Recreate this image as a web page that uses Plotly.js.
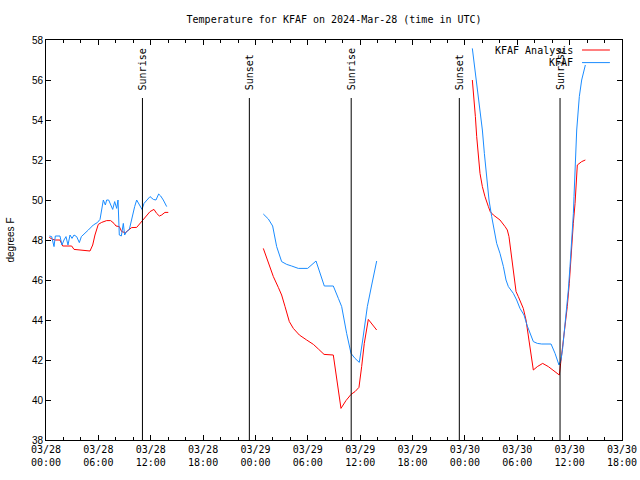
<!DOCTYPE html>
<html>
<head>
<meta charset="utf-8">
<script src="https://cdn.plot.ly/plotly-3.0.1.min.js"></script>
<style>html,body{margin:0;padding:0;background:#fff;}#chart{width:640px;height:480px;}</style>
</head>
<body>
<div id="chart"></div>
<script>
// Hours since 2024-03-28 00:00 UTC
var obsHours = [0.38,0.65,0.92,1.07,1.6,1.83,2.06,2.29,2.52,2.75,2.98,3.21,3.51,3.82,4.05,4.47,4.85,5.42,5.88,6.19,6.38,6.57,6.8,6.95,7.18,7.41,7.64,7.87,8.1,8.25,8.4,8.63,8.86,9.01,9.24,9.55,9.85,10.16,10.39,10.69,11.0,11.23,11.54,11.92,12.3,12.6,12.91,13.14,13.44,13.83,
  null,
  24.9,25.48,25.97,26.43,27.0,27.58,28.15,28.91,29.98,30.94,31.89,32.92,33.5,33.88,34.45,34.95,35.41,35.9,36.29,36.82,37.32,37.89,
  null,
  48.85,49.16,49.46,49.73,50.0,50.23,50.49,50.76,51.07,51.34,51.64,52.02,52.41,52.71,52.98,53.55,53.93,54.31,54.77,55.15,55.46,55.84,56.3,56.8,57.87,58.33,58.78,59.01,59.2,59.47,59.66,59.85,60.04,60.23,60.43,60.5,60.62,60.81,61.11,61.38,61.8];
var obsTemps = [48.2,48.17,47.67,48.2,48.2,47.75,48.0,48.17,47.75,48.25,48.08,48.25,48.17,47.87,48.17,48.33,48.5,48.75,48.87,49.03,49.5,50.0,49.75,50.0,50.0,49.75,49.53,49.92,49.58,50.0,48.25,48.2,48.83,48.25,48.42,48.53,49.17,49.67,50.0,49.8,49.53,49.83,49.97,50.17,50.03,50.0,50.3,50.2,50.0,49.67,
  null,
  49.3,49.05,48.7,47.67,46.92,46.78,46.7,46.58,46.58,46.95,45.7,45.7,45.08,44.67,43.33,42.33,42.08,41.88,43.0,44.67,45.75,46.95,
  null,
  57.58,56.5,55.5,54.5,53.5,52.33,51.17,50.0,49.17,48.58,47.83,47.33,46.67,46.0,45.67,45.33,45.0,44.58,44.25,43.7,43.33,42.92,42.83,42.8,42.8,42.33,41.75,42.0,42.58,43.67,44.67,45.5,46.67,47.83,49.33,50.17,51.83,53.5,55.17,56.0,56.75];

var anaHours = [0.38,0.76,1.07,1.6,1.91,2.94,3.21,3.9,4.28,5.04,5.35,5.61,5.99,6.38,6.95,7.41,7.79,8.02,8.4,8.67,9.09,9.43,9.81,10.39,10.77,11.15,11.54,11.92,12.37,12.68,12.99,13.25,13.63,14.01,
  null,
  24.9,25.48,26.05,26.62,27.0,27.39,27.88,28.34,29.03,29.87,30.64,31.21,31.86,32.92,33.23,33.54,33.8,34.37,34.95,35.41,35.86,36.17,36.47,36.93,37.39,37.89,
  null,
  48.85,49.04,49.2,49.35,49.54,49.73,50.0,50.3,50.69,50.9,51.26,52.02,52.6,52.86,53.05,53.25,53.44,53.63,53.86,54.12,54.39,54.69,55.0,55.27,55.53,55.84,56.3,56.91,57.56,58.13,58.82,58.97,59.2,59.47,59.73,59.96,60.15,60.42,60.62,60.75,60.88,61.38,61.8];
var anaTemps = [48.13,48.03,48.0,48.0,47.7,47.7,47.53,47.5,47.45,47.45,47.75,48.25,48.78,48.88,48.97,48.97,48.83,48.7,48.67,48.42,48.37,48.47,48.62,48.63,48.83,49.03,49.2,49.42,49.53,49.33,49.2,49.25,49.38,49.38,
  null,
  47.58,46.83,46.17,45.63,45.25,44.67,43.92,43.58,43.25,43.0,42.78,42.55,42.28,42.25,41.33,40.5,39.58,39.97,40.28,40.42,40.63,41.67,42.83,44.03,43.75,43.5,
  null,
  56.0,55.17,54.17,53.17,52.17,51.33,50.67,50.17,49.67,49.42,49.25,49.0,48.67,48.5,48.17,47.5,47.0,46.17,45.42,45.17,44.92,44.58,44.0,43.17,42.33,41.5,41.67,41.83,41.67,41.5,41.25,41.83,42.67,43.5,44.67,45.83,47.33,48.83,49.83,51.0,51.75,51.92,52.0];

var sunEventHours = [11.05, 23.3, 34.97, 47.36, 58.9];
var sunEventLabels = ["Sunrise", "Sunset", "Sunrise", "Sunset", "Sunrise"];

var tickHours = [0,6,12,18,24,30,36,42,48,54,60,66];
var tickLabels = ["03/28<br>00:00","03/28<br>06:00","03/28<br>12:00","03/28<br>18:00","03/29<br>00:00","03/29<br>06:00","03/29<br>12:00","03/29<br>18:00","03/30<br>00:00","03/30<br>06:00","03/30<br>12:00","03/30<br>18:00"];

var seriesNames = ["KFAF Analysis", "KFAF"];
var seriesColors = ["#ff0000", "#1a8cff"];

var BASE = Date.UTC(2024, 2, 28, 0, 0, 0);
function toDate(h) {
  if (h === null) return null;
  var d = new Date(BASE + h * 3600000);
  return d.toISOString().replace('T', ' ').replace('Z', '');
}

var mono = "DejaVu Sans Mono, monospace";

var traces = [
  {x: anaHours.map(toDate), y: anaTemps, type: 'scatter', mode: 'lines', name: seriesNames[0],
   line: {color: seriesColors[0], width: 1}, connectgaps: false, showlegend: false},
  {x: obsHours.map(toDate), y: obsTemps, type: 'scatter', mode: 'lines', name: seriesNames[1],
   line: {color: seriesColors[1], width: 1}, connectgaps: false, showlegend: false}
];

var shapes = [];
var annotations = [];
for (var i = 0; i < sunEventHours.length; i++) {
  shapes.push({type: 'line', xref: 'x', yref: 'paper', x0: toDate(sunEventHours[i]), x1: toDate(sunEventHours[i]),
    y0: 0, y1: 0.855, line: {color: '#000', width: 1}});
  annotations.push({xref: 'x', yref: 'paper', x: toDate(sunEventHours[i]), y: 0.87, text: sunEventLabels[i],
    textangle: -90, showarrow: false, xanchor: 'center', yanchor: 'bottom',
    font: {family: mono, size: 10, color: '#000'}});
}
// legend (gnuplot style: text then line sample)
var legY = [0.975, 0.9435];
for (var j = 0; j < seriesNames.length; j++) {
  annotations.push({xref: 'paper', yref: 'paper', x: 0.919, y: legY[j], text: seriesNames[j], showarrow: false,
    xanchor: 'right', yanchor: 'middle', font: {family: mono, size: 10, color: '#000'}});
  shapes.push({type: 'line', xref: 'paper', yref: 'paper', x0: 0.9306, x1: 0.979, y0: legY[j], y1: legY[j],
    line: {color: seriesColors[j], width: 1}});
}

var layout = {
  width: 640, height: 480,
  margin: {l: 46, r: 18, t: 40, b: 40, pad: 0},
  paper_bgcolor: '#fff', plot_bgcolor: '#fff',
  showlegend: false,
  title: {text: 'Temperature for KFAF on 2024-Mar-28 (time in UTC)', x: 0.522, xanchor: 'center',
    y: 0.96, yanchor: 'middle', font: {family: mono, size: 10, color: '#000'}},
  xaxis: {type: 'date', range: [toDate(0), toDate(66)], tickmode: 'array',
    tickvals: tickHours.map(toDate), ticktext: tickLabels,
    ticks: 'inside', ticklen: 5, tickwidth: 1, tickcolor: '#000',
    showline: true, linecolor: '#000', linewidth: 1, mirror: 'ticks',
    showgrid: false, zeroline: false,
    tickfont: {family: mono, size: 10, color: '#000'},
    minor: {tickmode: 'linear', tick0: toDate(0), dtick: 7200000, ticks: 'inside', ticklen: 3, tickcolor: '#000', showgrid: false}
  },
  yaxis: {range: [38, 58], tickmode: 'linear', tick0: 38, dtick: 2,
    ticks: 'inside', ticklen: 5, tickwidth: 1, tickcolor: '#000',
    showline: true, linecolor: '#000', linewidth: 1, mirror: 'ticks',
    showgrid: false, zeroline: false,
    tickfont: {family: 'Liberation Sans, Arial, sans-serif', size: 10, color: '#000'},
    title: {text: 'degrees F', standoff: 15, font: {family: 'Liberation Sans, Arial, sans-serif', size: 10, color: '#000'}}
  },
  shapes: shapes,
  annotations: annotations
};

Plotly.newPlot('chart', traces, layout, {staticPlot: true, displayModeBar: false});
</script>
</body>
</html>
